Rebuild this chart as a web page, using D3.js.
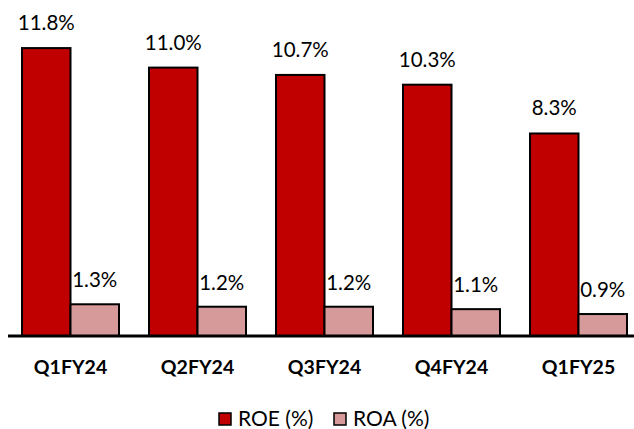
<!DOCTYPE html>
<html><head><meta charset="utf-8">
<script src="https://cdn.jsdelivr.net/npm/d3@7"></script>
<style>html,body{margin:0;padding:0;background:#fff;}svg{display:block;font-family:Lato, "Open Sans", sans-serif;}</style>
</head><body>
<svg id="c" width="634" height="429"></svg>
<script>
const categories = ["Q1FY24","Q2FY24","Q3FY24","Q4FY24","Q1FY25"];
const seriesNames = ["ROE (%)","ROA (%)"];
const roe = [11.8, 11.0, 10.7, 10.3, 8.3];
const roa = [1.3, 1.2, 1.2, 1.1, 0.9];
const colors = ["#C00000","#D79A9A"];

const svg = d3.select("#c");
const base = 336;
const y = d3.scaleLinear().domain([0, 12]).range([base, base - 12*24.4]);
const x0 = d3.scaleBand().domain(categories).range([7, 642]).paddingInner(30/127).paddingOuter(15/127);
const x1 = d3.scaleBand().domain(seriesNames).range([0, x0.bandwidth()]);

const data = categories.map((c,i)=>({cat:c, vals:[roe[i], roa[i]]}));

const g = svg.append("g");
data.forEach(d=>{
  d.vals.forEach((v,j)=>{
    const xx = x0(d.cat) + x1(seriesNames[j]);
    g.append("rect")
      .attr("x", xx).attr("y", y(v))
      .attr("width", x1.bandwidth()).attr("height", base - y(v))
      .attr("fill", colors[j]).attr("stroke", "#000").attr("stroke-width", 2);
    g.append("text")
      .attr("x", xx + x1.bandwidth()/2)
      .attr("y", y(v) - (j===0 ? 18 : 17))
      .attr("text-anchor","middle")
      .attr("font-size", 20.5)
      .attr("fill","#000")
      .text(v.toFixed(1) + "%");
  });
});

// axis
const xAxis = d3.axisBottom(x0).tickSize(0).tickPadding(0);
const ax = svg.append("g").attr("transform", `translate(0,${base})`).call(xAxis);
ax.select(".domain").remove();
ax.append("line").attr("x1", 8).attr("x2", 634).attr("y1", 0).attr("y2", 0).attr("stroke","#000").attr("stroke-width",3);
ax.selectAll(".tick text")
  .attr("y", 38).attr("dy", 0)
  .attr("font-size", 19.5).attr("font-weight","bold")
  .attr("font-family","Lato, sans-serif").attr("fill","#000");

// legend
const legend = svg.append("g");
const lx = [218, 333];
seriesNames.forEach((s,j)=>{
  legend.append("rect").attr("x", lx[j]+1).attr("y", 413).attr("width", 12).attr("height", 12)
    .attr("fill", colors[j]).attr("stroke","#000").attr("stroke-width",1.5);
  legend.append("text").attr("x", lx[j]+20).attr("y", 426).attr("font-size", 21).attr("fill","#000").text(s);
});
</script>
</body></html>
